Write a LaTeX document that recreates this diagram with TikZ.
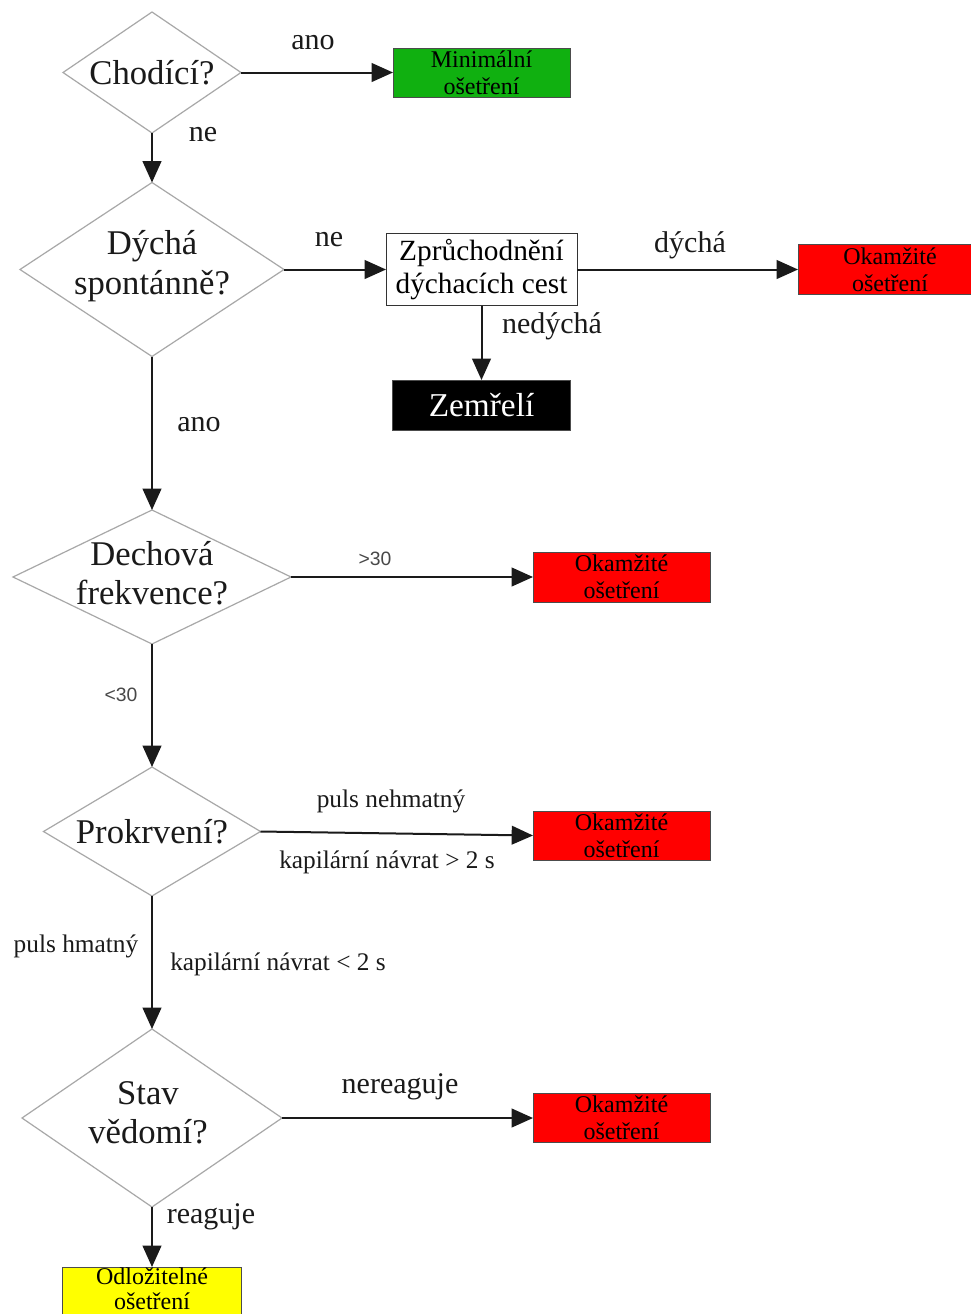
\documentclass[tikz,border=0pt]{standalone}
\usepackage{fontspec}
\setmainfont{Liberation Serif}
\newfontfamily\labsans{Liberation Sans}
\usetikzlibrary{shapes.geometric,arrows.meta}
\definecolor{diamgray}{HTML}{A8A8A8}
\definecolor{triagegreen}{HTML}{10B010}
\definecolor{triagered}{HTML}{FF0000}
\definecolor{triageyellow}{HTML}{FFFF00}
\definecolor{ink}{HTML}{1A1A1A}
\begin{document}
\begin{tikzpicture}[x=0.75pt,y=-0.75pt,
  decision/.style={diamond, draw=diamgray, line width=0.9pt, inner sep=0pt, outer sep=0pt},
  qtext/.style={align=center, text=ink, inner sep=0pt, font=\fontsize{26}{29.5}\selectfont},
  outcome/.style={rectangle, draw=black!70, line width=0.6pt, inner sep=0pt, outer sep=0pt,
    align=center, font=\fontsize{18}{20}\selectfont},
  flow/.style={draw=ink, line width=1.5pt, -{Triangle[length=16pt,width=14pt]}},
  lbl/.style={inner sep=0pt, text=ink, font=\fontsize{22.5}{25}\selectfont},
  slbl/.style={inner sep=0pt, text=ink, font=\fontsize{19}{21}\selectfont},
  nlbl/.style={inner sep=0pt, text=ink!80, font=\labsans\fontsize{14.5}{16}\selectfont}]
\clip (0,0) rectangle (971,1314);
\useasboundingbox (0,0) rectangle (971,1314);
\fill[white] (0,0) rectangle (971,1314);

% decision diamonds
\node[decision, minimum width=178*.75pt, minimum height=121*.75pt] (d1) at (152,72.5) {};
\node[qtext] (d1t) at (d1) {Chodící?};
\node[decision, minimum width=264*.75pt, minimum height=174*.75pt] (d2) at (152,269.5) {};
\node[qtext] (d2t) at (152,266) {Dýchá\\spontánně?};
\node[decision, minimum width=278*.75pt, minimum height=134*.75pt] (d3) at (152,577) {};
\node[qtext] (d3t) at (152,573) {Dechová\\frekvence?};
\node[decision, minimum width=217*.75pt, minimum height=129*.75pt] (d4) at (152,831.5) {};
\node[qtext] (d4t) at (d4) {Prokrvení?};
\node[decision, minimum width=260*.75pt, minimum height=178*.75pt] (d5) at (152,1118) {};
\node[qtext] (d5t) at (148,1113) {Stav\\vědomí?};

% outcome boxes
\node[outcome, fill=triagegreen, minimum width=177*.75pt, minimum height=49*.75pt] (g1) at (481.5,72.5) {Minimální\\ošetření};
\node[outcome, fill=white, draw=black!80, minimum width=191*.75pt, minimum height=72*.75pt,
  font=\fontsize{22}{25}\selectfont] (air) at (481.5,269.5) {Zprůchodnění\\dýchacích cest};
\node[outcome, fill=triagered, minimum width=184*.75pt, minimum height=50*.75pt] (r1) at (890,269.5) {Okamžité\\ošetření};
\node[outcome, fill=black, text=white, minimum width=178*.75pt, minimum height=50*.75pt,
  font=\fontsize{25}{27}\selectfont] (dead) at (481.5,405) {Zemřelí};
\node[outcome, fill=triagered, minimum width=177*.75pt, minimum height=50*.75pt] (r2) at (621.5,577) {Okamžité\\ošetření};
\node[outcome, fill=triagered, minimum width=177*.75pt, minimum height=49*.75pt] (r3) at (621.5,835.5) {Okamžité\\ošetření};
\node[outcome, fill=triagered, minimum width=177*.75pt, minimum height=49*.75pt] (r4) at (621.5,1118) {Okamžité\\ošetření};
\node[outcome, fill=triageyellow, minimum width=179*.75pt, minimum height=50*.75pt] (y1) at (152,1292) {};
\node[align=center, inner sep=0pt, font=\fontsize{18}{18.5}\selectfont, anchor=north] (y1t) at (152,1268) {Odložitelné\\ošetření};

% connectors
\draw[flow] (d1.east) -- (g1.west);
\draw[flow] (d1.south) -- (d2.north);
\draw[flow] (d2.east) -- (air.west);
\draw[flow] (air.east) -- (r1.west);
\draw[flow] (air.south) -- (dead.north);
\draw[flow] (d2.south) -- (d3.north);
\draw[flow] (d3.east) -- (r2.west);
\draw[flow] (d3.south) -- (d4.north);
\draw[flow] (d4.east) -- (r3.west);
\draw[flow] (d4.south) -- (d5.north);
\draw[flow] (d5.east) -- (r4.west);
\draw[flow] (d5.south) -- (y1.north);

% connector labels
\node[lbl] (l1) at (313,43) {ano};
\node[lbl] (l2) at (203,135) {ne};
\node[lbl] (l3) at (329,240) {ne};
\node[lbl] (l4) at (690,245) {dýchá};
\node[lbl] (l5) at (552,326) {nedýchá};
\node[lbl] (l6) at (199,425) {ano};
\node[nlbl] (l7) at (375,559) {>30};
\node[nlbl] (l8) at (121,695) {<30};
\node[slbl] (l9) at (391,801) {puls nehmatný};
\node[slbl] (l10) at (387,862) {kapilární návrat > 2 s};
\node[slbl] (l11) at (76,946) {puls hmatný};
\node[slbl] (l12) at (278,964) {kapilární návrat < 2 s};
\node[lbl] (l13) at (400,1087) {nereaguje};
\node[lbl] (l14) at (211,1217) {reaguje};
\end{tikzpicture}
\end{document}
